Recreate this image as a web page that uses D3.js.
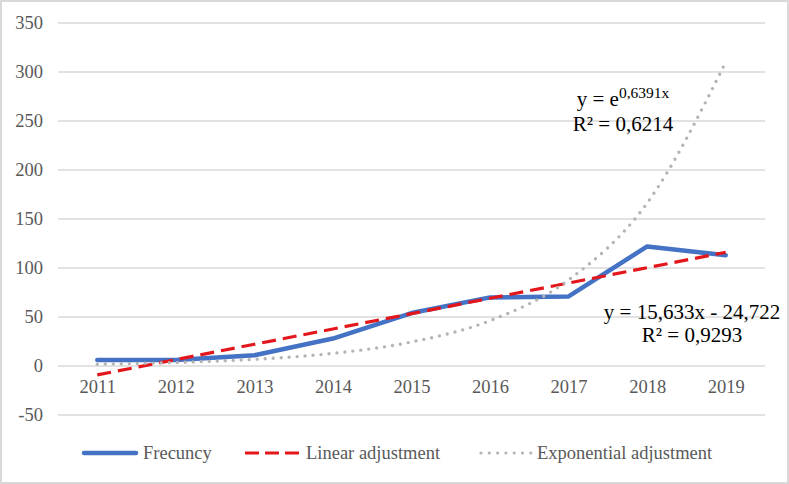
<!DOCTYPE html>
<html>
<head>
<meta charset="utf-8">
<script src="https://cdn.jsdelivr.net/npm/d3@7"></script>
<style>
  html, body { margin: 0; padding: 0; background: #fff; }
  svg { display: block; }
  text { font-family: "Liberation Serif", "Times New Roman", serif; }
</style>
</head>
<body>
<svg id="chart" width="789" height="484"></svg>
<script>
const years = ["2011","2012","2013","2014","2015","2016","2017","2018","2019"];
const frequency = [6, 6, 11, 28, 54, 70, 71, 122, 113];
const linearFit = [-9.1, 6.5, 22.2, 37.8, 53.4, 69.1, 84.7, 100.3, 116.0];
const exponentialFit = [1.9, 3.6, 6.8, 12.9, 24.5, 46.3, 87.8, 166.3, 310];
const yTicks = [-50, 0, 50, 100, 150, 200, 250, 300, 350];
const seriesNames = ["Frecuncy", "Linear adjustment", "Exponential adjustment"];

const FONT = '"Liberation Serif", "Times New Roman", serif';
const svg = d3.select("#chart");
const W = 789, H = 484;

svg.append("rect").attr("x", 1).attr("y", 1).attr("width", W - 2).attr("height", H - 2)
  .attr("fill", "#fff").attr("stroke", "#d9d9d9").attr("stroke-width", 2);

const x = d3.scalePoint().domain(years).range([58, 765]).padding(0.5);
const y = d3.scaleLinear().domain([-50, 350]).range([415, 23]);

// gridlines
svg.append("g").selectAll("line").data(yTicks).join("line")
  .attr("x1", 58).attr("x2", 765)
  .attr("y1", d => y(d)).attr("y2", d => y(d))
  .attr("stroke", "#d9d9d9").attr("stroke-width", 1.5);

// y axis labels
const yAxis = d3.axisLeft(y).tickValues(yTicks).tickSize(0).tickPadding(0)
  .tickFormat(d => String(d));
const gy = svg.append("g").attr("transform", "translate(43,0)").call(yAxis)
  .attr("font-family", FONT);
gy.select(".domain").remove();
gy.selectAll("text").attr("font-size", 18.5).attr("fill", "#595959")
  .style("font-family", FONT);

// x axis labels
const xAxis = d3.axisBottom(x).tickSize(0).tickPadding(0);
const gx = svg.append("g").attr("transform", "translate(0,380)").call(xAxis)
  .attr("font-family", FONT);
gx.select(".domain").remove();
gx.selectAll("text").attr("font-size", 18.5).attr("fill", "#595959")
  .style("font-family", FONT);

const lineGen = d3.line().x((d, i) => x(years[i])).y(d => y(d));

svg.append("path").datum(frequency).attr("d", lineGen)
  .attr("fill", "none").attr("stroke", "#4472c4").attr("stroke-width", 4.5)
  .attr("stroke-linejoin", "round").attr("stroke-linecap", "round");

svg.append("path").datum(linearFit).attr("d", lineGen)
  .attr("fill", "none").attr("stroke", "#e3171b").attr("stroke-width", 3.2)
  .attr("stroke-dasharray", "14,7");

const curveGen = d3.line().x((d, i) => x(years[i])).y(d => y(d)).curve(d3.curveMonotoneX);
svg.append("path").datum(exponentialFit).attr("d", curveGen)
  .attr("fill", "none").attr("stroke", "#b4b4b4").attr("stroke-width", 3.4)
  .attr("stroke-linecap", "round").attr("stroke-dasharray", "0,8");

// annotations
const expLabel = svg.append("text").attr("x", 623).attr("y", 106)
  .attr("text-anchor", "middle").attr("font-size", 21).attr("fill", "#000")
  .style("font-family", FONT);
expLabel.append("tspan").text("y = e");
expLabel.append("tspan").attr("font-size", 15.5).attr("dy", -8).text("0,6391x");
svg.append("text").attr("x", 623).attr("y", 131).attr("text-anchor", "middle")
  .attr("font-size", 21).attr("fill", "#000").style("font-family", FONT).text("R² = 0,6214");

svg.append("text").attr("x", 692).attr("y", 319).attr("text-anchor", "middle")
  .attr("font-size", 21).attr("fill", "#000").style("font-family", FONT).text("y = 15,633x - 24,722");
svg.append("text").attr("x", 692).attr("y", 342).attr("text-anchor", "middle")
  .attr("font-size", 21).attr("fill", "#000").style("font-family", FONT).text("R² = 0,9293");

// legend
const legendY = 453;
const leg = [
  {name: seriesNames[0], x1: 84, x2: 136, tx: 143, stroke: "#4472c4", w: 4.5, dash: null, cap: "round"},
  {name: seriesNames[1], x1: 245, x2: 299, tx: 306, stroke: "#e3171b", w: 3.2, dash: "14,6", cap: "butt"},
  {name: seriesNames[2], x1: 481, x2: 531, tx: 537, stroke: "#b4b4b4", w: 3.2, dash: "0,8.3", cap: "round"}
];
leg.forEach(l => {
  svg.append("line").attr("x1", l.x1).attr("x2", l.x2).attr("y1", legendY).attr("y2", legendY)
    .attr("stroke", l.stroke).attr("stroke-width", l.w).attr("stroke-linecap", l.cap)
    .attr("stroke-dasharray", l.dash);
  svg.append("text").attr("x", l.tx).attr("y", legendY + 6).attr("font-size", 18.5)
    .attr("fill", "#595959").style("font-family", FONT).text(l.name);
});
</script>
</body>
</html>
